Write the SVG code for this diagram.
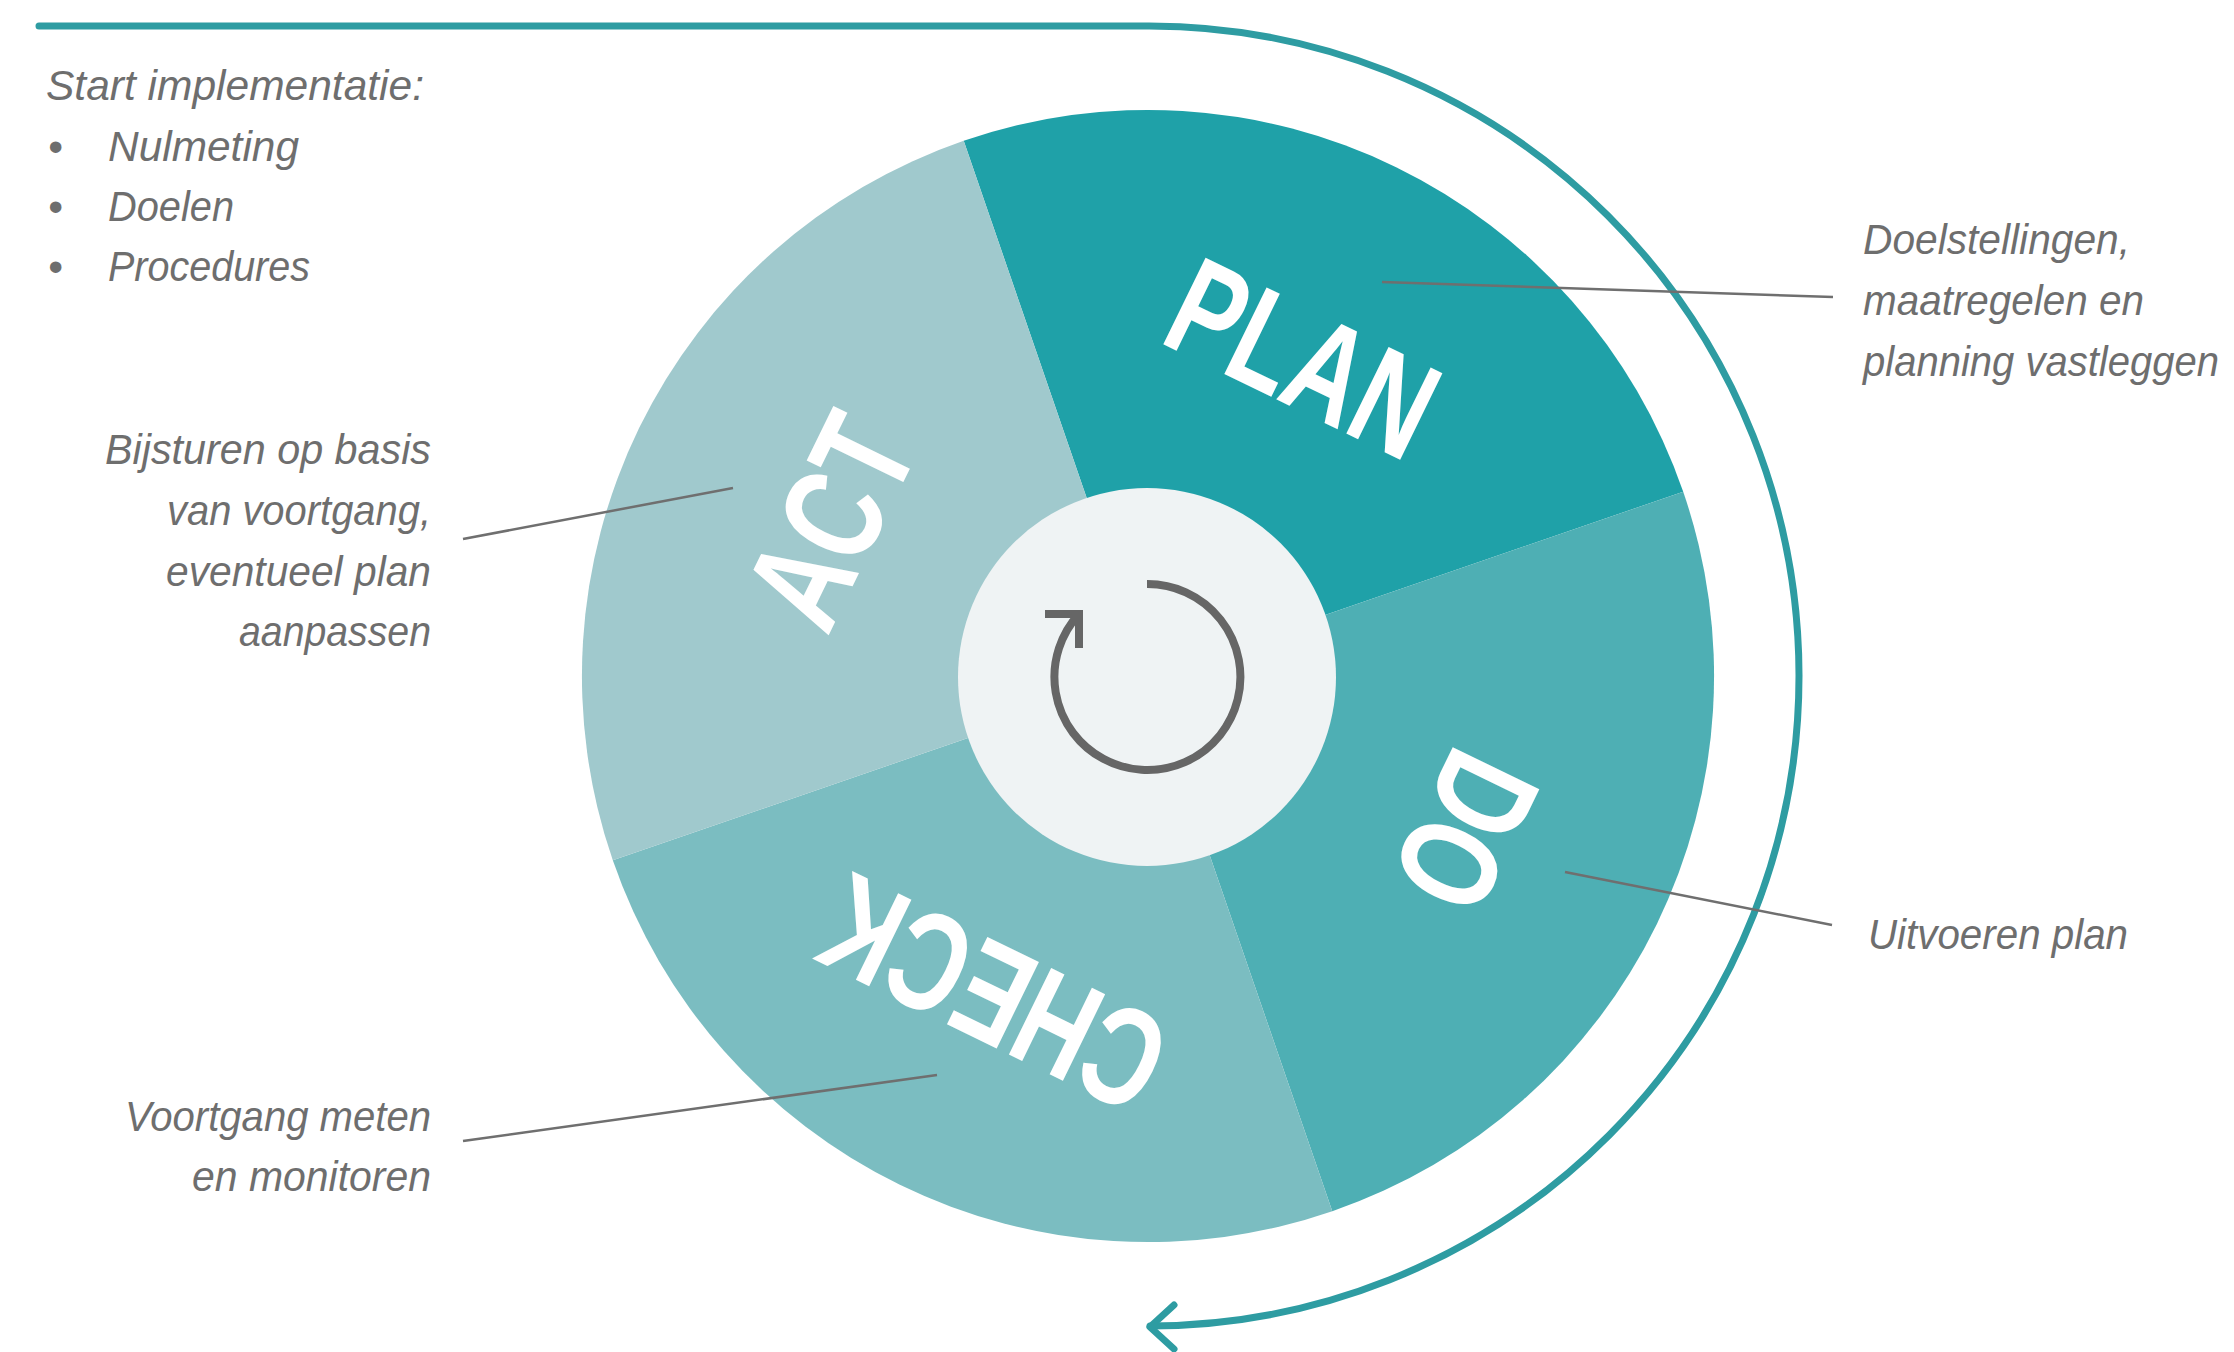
<svg xmlns="http://www.w3.org/2000/svg" width="2234" height="1352" viewBox="0 0 2234 1352">
  <style>
    .seg-label { font-family: "Liberation Sans", Arial, sans-serif; font-weight: bold; font-size: 140px; fill: #ffffff; text-anchor: middle; }
    .note { font-family: "Liberation Sans", Arial, sans-serif; font-style: italic; font-size: 42px; fill: #6e6e6e; }
    .right { text-anchor: end; }
    .leader { stroke: #6f6f6f; stroke-width: 2.5; fill: none; }
    .cycle { stroke: #2e9ca2; stroke-width: 7; fill: none; stroke-linecap: round; stroke-linejoin: round; }
    .icon { stroke: #666666; stroke-width: 8; fill: none; }
  </style>
  <rect width="2234" height="1352" fill="#ffffff"/>

  <g id="cycle-arrow">
    <path class="cycle" d="M 39 26 H 1148 A 650 650 0 0 1 1150 1326"/>
    <path class="cycle" stroke-width="9" d="M 1174 1305 L 1150 1327 L 1174 1349"/>
  </g>

  <g id="node-plan">
    <path d="M 1148 676 L 963.7 140.8 A 566 566 0 0 1 1683.2 491.7 Z" fill="#1fa1a8"/>
    <text class="seg-label" transform="translate(1281.7 401.9) rotate(26)" textLength="277" lengthAdjust="spacingAndGlyphs">PLAN</text>
  </g>
  <g id="node-do">
    <path d="M 1148 676 L 1683.2 491.7 A 566 566 0 0 1 1332.3 1211.2 Z" fill="#4eafb4"/>
    <text class="seg-label" transform="translate(1422.1 809.7) rotate(116)" textLength="153" lengthAdjust="spacingAndGlyphs">DO</text>
  </g>
  <g id="node-check">
    <path d="M 1148 676 L 1332.3 1211.2 A 566 566 0 0 1 612.8 860.3 Z" fill="#7bbdc1"/>
    <text class="seg-label" transform="translate(1014.3 950.1) rotate(206)" textLength="363" lengthAdjust="spacingAndGlyphs">CHECK</text>
  </g>
  <g id="node-act">
    <path d="M 1148 676 L 612.8 860.3 A 566 566 0 0 1 963.7 140.8 Z" fill="#a0c9cd"/>
    <text class="seg-label" transform="translate(873.9 542.3) rotate(296)" textLength="212" lengthAdjust="spacingAndGlyphs">ACT</text>
  </g>

  <g id="node-center">
    <circle cx="1147" cy="677" r="189" fill="#eff3f4"/>
    <path class="icon" d="M 1147 584 A 93 93 0 1 1 1079 614"/>
    <path class="icon" stroke-linejoin="miter" d="M 1045 614 L 1079 614 L 1079 648"/>
  </g>

  <g id="connectors">
    <line class="leader" x1="1382" y1="282" x2="1833" y2="297"/>
    <line class="leader" x1="1565" y1="872" x2="1832" y2="925"/>
    <line class="leader" x1="463" y1="539" x2="733" y2="488"/>
    <line class="leader" x1="463" y1="1141" x2="937" y2="1075"/>
  </g>

  <g id="note-start">
    <text class="note" x="46" y="100" textLength="378" lengthAdjust="spacingAndGlyphs">Start implementatie:</text>
    <text class="note" x="48" y="161">•</text>
    <text class="note" x="108" y="161" textLength="191" lengthAdjust="spacingAndGlyphs">Nulmeting</text>
    <text class="note" x="48" y="221">•</text>
    <text class="note" x="108" y="221" textLength="126" lengthAdjust="spacingAndGlyphs">Doelen</text>
    <text class="note" x="48" y="281">•</text>
    <text class="note" x="108" y="281" textLength="202" lengthAdjust="spacingAndGlyphs">Procedures</text>
  </g>

  <g id="note-act">
    <text class="note right" x="431" y="464" textLength="326" lengthAdjust="spacingAndGlyphs">Bijsturen op basis</text>
    <text class="note right" x="431" y="525" textLength="264" lengthAdjust="spacingAndGlyphs">van voortgang,</text>
    <text class="note right" x="431" y="586" textLength="265" lengthAdjust="spacingAndGlyphs">eventueel plan</text>
    <text class="note right" x="431" y="646" textLength="192" lengthAdjust="spacingAndGlyphs">aanpassen</text>
  </g>

  <g id="note-check">
    <text class="note right" x="431" y="1131" textLength="306" lengthAdjust="spacingAndGlyphs">Voortgang meten</text>
    <text class="note right" x="431" y="1191" textLength="239" lengthAdjust="spacingAndGlyphs">en monitoren</text>
  </g>

  <g id="note-plan">
    <text class="note" x="1863" y="254" textLength="267" lengthAdjust="spacingAndGlyphs">Doelstellingen,</text>
    <text class="note" x="1863" y="315" textLength="281" lengthAdjust="spacingAndGlyphs">maatregelen en</text>
    <text class="note" x="1863" y="376" textLength="356" lengthAdjust="spacingAndGlyphs">planning vastleggen</text>
  </g>

  <g id="note-do">
    <text class="note" x="1868" y="949" textLength="260" lengthAdjust="spacingAndGlyphs">Uitvoeren plan</text>
  </g>
</svg>
